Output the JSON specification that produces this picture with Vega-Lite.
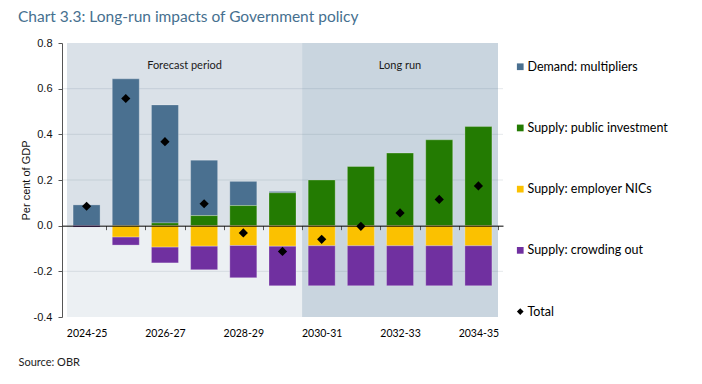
{
  "$schema": "https://vega.github.io/schema/vega-lite/v6.json",
  "width": 441,
  "height": 274,
  "autosize": "none",
  "padding": {"left": 62, "top": 43, "right": 199, "bottom": 67},
  "background": "white",
  "config": {"view": {"stroke": null}},
  "title": {
    "text": "Chart 3.3: Long-run impacts of Government policy",
    "anchor": "start",
    "frame": "group",
    "font": "Lato",
    "fontSize": 15.5,
    "fontWeight": "normal",
    "color": "#46708f",
    "dx": -44,
    "baseline": "alphabetic",
    "offset": 0
  },
  "datasets": {
    "main": [
      {"year": "2024-25", "i": 0, "series": "Demand: multipliers", "value": 0.091},
      {"year": "2024-25", "i": 0, "series": "Supply: crowding out", "value": -0.006},
      {"year": "2024-25", "i": 0, "series": "Total", "value": 0.085},
      {"year": "2025-26", "i": 1, "series": "Demand: multipliers", "value": 0.643},
      {"year": "2025-26", "i": 1, "series": "Supply: employer NICs", "value": -0.05},
      {"year": "2025-26", "i": 1, "series": "Supply: crowding out", "value": -0.035},
      {"year": "2025-26", "i": 1, "series": "Total", "value": 0.557},
      {"year": "2026-27", "i": 2, "series": "Demand: multipliers", "value": 0.517},
      {"year": "2026-27", "i": 2, "series": "Supply: public investment", "value": 0.012},
      {"year": "2026-27", "i": 2, "series": "Supply: employer NICs", "value": -0.094},
      {"year": "2026-27", "i": 2, "series": "Supply: crowding out", "value": -0.069},
      {"year": "2026-27", "i": 2, "series": "Total", "value": 0.368},
      {"year": "2027-28", "i": 3, "series": "Demand: multipliers", "value": 0.243},
      {"year": "2027-28", "i": 3, "series": "Supply: public investment", "value": 0.044},
      {"year": "2027-28", "i": 3, "series": "Supply: employer NICs", "value": -0.09},
      {"year": "2027-28", "i": 3, "series": "Supply: crowding out", "value": -0.103},
      {"year": "2027-28", "i": 3, "series": "Total", "value": 0.096},
      {"year": "2028-29", "i": 4, "series": "Demand: multipliers", "value": 0.106},
      {"year": "2028-29", "i": 4, "series": "Supply: public investment", "value": 0.088},
      {"year": "2028-29", "i": 4, "series": "Supply: employer NICs", "value": -0.087},
      {"year": "2028-29", "i": 4, "series": "Supply: crowding out", "value": -0.141},
      {"year": "2028-29", "i": 4, "series": "Total", "value": -0.032},
      {"year": "2029-30", "i": 5, "series": "Demand: multipliers", "value": 0.006},
      {"year": "2029-30", "i": 5, "series": "Supply: public investment", "value": 0.144},
      {"year": "2029-30", "i": 5, "series": "Supply: employer NICs", "value": -0.09},
      {"year": "2029-30", "i": 5, "series": "Supply: crowding out", "value": -0.173},
      {"year": "2029-30", "i": 5, "series": "Total", "value": -0.113},
      {"year": "2030-31", "i": 6, "series": "Supply: public investment", "value": 0.2},
      {"year": "2030-31", "i": 6, "series": "Supply: employer NICs", "value": -0.088},
      {"year": "2030-31", "i": 6, "series": "Supply: crowding out", "value": -0.175},
      {"year": "2030-31", "i": 6, "series": "Total", "value": -0.06},
      {"year": "2031-32", "i": 7, "series": "Supply: public investment", "value": 0.259},
      {"year": "2031-32", "i": 7, "series": "Supply: employer NICs", "value": -0.088},
      {"year": "2031-32", "i": 7, "series": "Supply: crowding out", "value": -0.175},
      {"year": "2031-32", "i": 7, "series": "Total", "value": -0.003},
      {"year": "2032-33", "i": 8, "series": "Supply: public investment", "value": 0.318},
      {"year": "2032-33", "i": 8, "series": "Supply: employer NICs", "value": -0.088},
      {"year": "2032-33", "i": 8, "series": "Supply: crowding out", "value": -0.175},
      {"year": "2032-33", "i": 8, "series": "Total", "value": 0.056},
      {"year": "2033-34", "i": 9, "series": "Supply: public investment", "value": 0.376},
      {"year": "2033-34", "i": 9, "series": "Supply: employer NICs", "value": -0.088},
      {"year": "2033-34", "i": 9, "series": "Supply: crowding out", "value": -0.175},
      {"year": "2033-34", "i": 9, "series": "Total", "value": 0.115},
      {"year": "2034-35", "i": 10, "series": "Supply: public investment", "value": 0.434},
      {"year": "2034-35", "i": 10, "series": "Supply: employer NICs", "value": -0.088},
      {"year": "2034-35", "i": 10, "series": "Supply: crowding out", "value": -0.175},
      {"year": "2034-35", "i": 10, "series": "Total", "value": 0.174}
    ],
    "regions": [
      {"part": "forecast_upper", "x0": -0.5, "x1": 5.5, "y0": 0, "y1": 0.8},
      {"part": "forecast_lower", "x0": -0.5, "x1": 5.5, "y0": -0.4, "y1": 0},
      {"part": "long_run", "x0": 5.5, "x1": 10.5, "y0": -0.4, "y1": 0.8}
    ],
    "labels": [
      {"label": "Forecast period", "x0": -0.5, "x1": 5.5},
      {"label": "Long run", "x0": 5.5, "x1": 10.5}
    ],
    "grid": [{"g": -0.2}, {"g": 0.2}, {"g": 0.4}, {"g": 0.6}]
  },
  "resolve": {"axis": {"x": "independent"}},
  "layer": [
    {
      "data": {"name": "regions"},
      "transform": [{"filter": "datum.part === 'forecast_upper'"}],
      "mark": {"type": "rect", "color": "#dae1e8"},
      "encoding": {
        "x": {"field": "x0", "type": "quantitative", "axis": null, "scale": {"domain": [-0.5, 10.5], "nice": false, "zero": false}},
        "x2": {"field": "x1"},
        "y": {
          "field": "y0", "type": "quantitative",
          "scale": {"domain": [-0.4, 0.8], "nice": false, "zero": false},
          "axis": {
            "values": [-0.4, -0.2, 0, 0.2, 0.4, 0.6, 0.8],
            "labelExpr": "replace(format(datum.value, '.1f'), '−', '-')",
            "grid": false, "domain": true, "domainColor": "#555555",
            "ticks": true, "tickColor": "#555555", "tickSize": 4,
            "labelFont": "Liberation Sans", "labelFontSize": 11, "labelColor": "#111111", "labelPadding": 6,
            "title": "Per cent of GDP", "titleFont": "Liberation Sans", "titleFontSize": 11,
            "titleFontWeight": "normal", "titleColor": "#111111", "titlePadding": 2
          }
        },
        "y2": {"field": "y1"}
      }
    },
    {
      "data": {"name": "regions"},
      "transform": [{"filter": "datum.part === 'forecast_lower'"}],
      "mark": {"type": "rect", "color": "#ecf0f3"},
      "encoding": {
        "x": {"field": "x0", "type": "quantitative", "axis": null},
        "x2": {"field": "x1"},
        "y": {"field": "y0", "type": "quantitative"},
        "y2": {"field": "y1"}
      }
    },
    {
      "data": {"name": "regions"},
      "transform": [{"filter": "datum.part === 'long_run'"}],
      "mark": {"type": "rect", "color": "#c9d5df"},
      "encoding": {
        "x": {"field": "x0", "type": "quantitative", "axis": null},
        "x2": {"field": "x1"},
        "y": {"field": "y0", "type": "quantitative"},
        "y2": {"field": "y1"}
      }
    },
    {
      "data": {"name": "grid"},
      "mark": {"type": "rule", "color": "#5a6e82", "strokeOpacity": 0.15, "strokeWidth": 1},
      "encoding": {
        "y": {"field": "g", "type": "quantitative"}
      }
    },
    {
      "data": {"name": "labels"},
      "transform": [{"calculate": "(datum.x0 + datum.x1) / 2", "as": "mid"}],
      "mark": {"type": "text", "font": "Lato", "fontSize": 11, "color": "#1a1a1a", "baseline": "middle", "align": "center"},
      "encoding": {
        "x": {
          "field": "mid", "type": "quantitative",
          "axis": {
            "orient": "bottom", "offset": -91.33,
            "values": [0.5, 1.5, 2.5, 3.5, 4.5, 5.5, 6.5, 7.5, 8.5, 9.5, 10.5],
            "labels": false, "ticks": true, "tickSize": 4, "tickColor": "#555555",
            "domain": true, "domainColor": "#000000", "domainWidth": 1,
            "grid": false, "title": null, "zindex": 1
          }
        },
        "y": {"datum": 0.7, "type": "quantitative"},
        "text": {"field": "label"}
      }
    },
    {
      "data": {"name": "main"},
      "transform": [
        {"filter": "datum.series !== 'Total'"},
        {"calculate": "indexof(['Supply: public investment', 'Demand: multipliers', 'Supply: employer NICs', 'Supply: crowding out'], datum.series)", "as": "o"}
      ],
      "mark": {"type": "bar", "orient": "vertical", "size": 27, "stroke": "#ffffff", "strokeOpacity": 0.25, "strokeWidth": 1},
      "encoding": {
        "x": {
          "field": "i", "type": "quantitative",
          "axis": {
            "orient": "bottom",
            "values": [0, 2, 4, 6, 8, 10],
            "labelExpr": "['2024-25','2025-26','2026-27','2027-28','2028-29','2029-30','2030-31','2031-32','2032-33','2033-34','2034-35'][datum.value]",
            "ticks": false, "domain": false, "grid": false,
            "labelFont": "Lato", "labelFontSize": 10.5, "labelColor": "#000000", "labelPadding": 11,
            "title": "Source: OBR", "titleFont": "Lato", "titleFontSize": 11, "titleFontWeight": "normal",
            "titleColor": "#222222", "titleAnchor": "start", "titleAlign": "left",
            "titleX": -44, "titleY": 45, "titleBaseline": "middle"
          }
        },
        "y": {"field": "value", "type": "quantitative", "stack": "zero"},
        "order": {"field": "o", "type": "quantitative"},
        "color": {
          "field": "series", "type": "nominal",
          "scale": {
            "domain": ["Demand: multipliers", "Supply: public investment", "Supply: employer NICs", "Supply: crowding out", "Total"],
            "range": ["#4a7090", "#237b02", "#fbc100", "#7030a0", "#000000"]
          },
          "legend": {
            "title": null, "orient": "none", "legendX": 452, "legendY": 17.5,
            "direction": "vertical", "symbolSize": 45,
            "symbolStrokeWidth": 0, "labelFont": "Lato", "labelFontSize": 12.5,
            "labelColor": "#000000", "rowPadding": 48.2, "labelOffset": 1
          }
        }
      }
    },
    {
      "data": {"name": "main"},
      "transform": [{"filter": "datum.series === 'Total'"}],
      "mark": {"type": "point", "filled": true, "size": 85, "opacity": 1},
      "encoding": {
        "x": {"field": "i", "type": "quantitative", "axis": null},
        "y": {"field": "value", "type": "quantitative"},
        "color": {"field": "series", "type": "nominal"},
        "shape": {
          "field": "series", "type": "nominal",
          "scale": {
            "domain": ["Demand: multipliers", "Supply: public investment", "Supply: employer NICs", "Supply: crowding out", "Total"],
            "range": ["square", "square", "square", "square", "diamond"]
          },
          "legend": {
            "title": null, "orient": "none", "legendX": 452, "legendY": 17.5,
            "direction": "vertical", "symbolSize": 45,
            "symbolStrokeWidth": 0, "labelFont": "Lato", "labelFontSize": 12.5,
            "labelColor": "#000000", "rowPadding": 48.2, "labelOffset": 1
          }
        }
      }
    }
  ]
}
